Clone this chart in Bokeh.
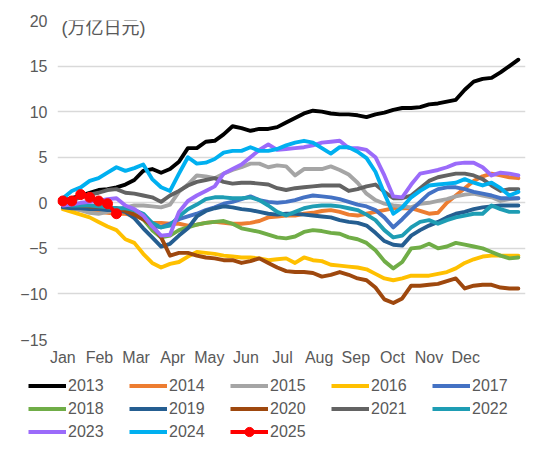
from bokeh.plotting import figure
from bokeh.layouts import column
from bokeh.models import Range1d, FixedTicker, Legend, LegendItem, Label
from bokeh.embed import file_html
from bokeh.resources import INLINE

weeks = list(range(52))
month_labels = ["Jan", "Feb", "Mar", "Apr", "May", "Jun", "Jul", "Aug", "Sep", "Oct", "Nov", "Dec"]
month_ticks = [0, 4.1, 8.2, 12.3, 16.4, 20.5, 24.6, 28.7, 32.8, 36.9, 41.0, 45.1]
y_ticks = [-15, -10, -5, 0, 5, 10, 15, 20]

y2013 = [0.2, 0.5, 0.8, 1.1, 1.4, 1.5, 1.7, 2.0, 2.5, 3.5, 3.7, 3.3, 3.7, 4.5, 6.0, 6.0, 6.7, 6.8, 7.5, 8.4,
         8.2, 7.9, 8.1, 8.1, 8.3, 8.8, 9.3, 9.8, 10.1, 10.0, 9.8, 9.7, 9.7, 9.6, 9.4, 9.7, 9.9, 10.2, 10.4, 10.4,
         10.5, 10.8, 10.9, 11.1, 11.3, 12.4, 13.3, 13.6, 13.7, 14.3, 15.0, 15.7]
y2014 = [-0.5, -0.6, -0.8, -0.9, -1.0, -1.1, -1.2, -1.2, -1.4, -1.8, -2.2, -2.2, -2.3, -2.3, -2.5, -2.4, -2.2, -2.1, -2.2, -2.3,
         -2.3, -2.2, -2.0, -1.6, -1.5, -1.4, -1.4, -1.2, -1.1, -0.9, -0.8, -1.0, -1.3, -1.4, -1.2, -1.0, -0.8, -0.6, -0.6, -0.6,
         -0.9, -1.2, -1.1, 0.0, 0.8, 1.6, 2.4, 2.9, 3.2, 3.0, 2.8, 2.7]
y2015 = [-0.3, -0.6, -0.8, -1.1, -1.2, -1.0, -0.8, -0.5, -0.3, -0.3, -0.4, -0.5, -0.2, 1.2, 2.0, 3.0, 2.9, 2.7, 3.2, 3.6,
         3.9, 4.3, 4.3, 3.9, 4.1, 4.0, 3.0, 3.7, 3.7, 3.7, 4.0, 3.6, 3.1, 2.2, 1.0, 0.3, -0.1, -0.3, -0.4, -0.5,
         -0.1, 0.0, 0.2, 0.4, 0.7, 0.9, 1.0, 0.8, 0.6, 0.2, 0.4, 0.5]
y2016 = [-0.7, -1.0, -1.3, -1.6, -2.1, -2.6, -3.0, -4.0, -4.4, -5.6, -6.6, -7.1, -6.7, -6.5, -5.9, -5.4, -5.5, -5.6, -5.8, -5.9,
         -6.0, -6.0, -6.1, -6.3, -6.2, -6.1, -6.6, -6.0, -6.3, -6.4, -6.8, -6.9, -7.0, -7.1, -7.3, -7.8, -8.3, -8.5, -8.3, -8.0,
         -8.0, -8.0, -7.8, -7.6, -7.2, -6.6, -6.2, -5.9, -5.8, -5.8, -5.8, -5.8]
y2017 = [-0.2, -0.4, -0.5, -0.5, -0.6, -0.6, -0.7, -0.8, -1.2, -1.8, -2.5, -2.7, -2.3, -1.8, -1.5, -1.2, -0.8, -0.5, -0.1, 0.1,
         0.4, 0.7, 0.3, 0.1, 0.0, 0.1, 0.3, 0.6, 0.8, 0.7, 0.6, 0.4, 0.1, -0.2, -0.4, -0.8, -1.6, -2.7, -1.8, -0.8,
         0.1, 1.0, 1.5, 1.7, 1.7, 1.5, 1.2, 1.0, 0.8, 0.5, 0.5, 0.5]
y2018 = [-0.3, -0.4, -0.4, -0.4, -0.5, -0.5, -0.6, -0.8, -1.2, -1.8, -3.0, -3.8, -3.6, -3.0, -2.7, -2.4, -2.2, -2.1, -2.0, -2.3,
         -2.8, -3.0, -3.2, -3.5, -3.8, -3.9, -3.7, -3.2, -3.0, -3.1, -3.3, -3.4, -3.8, -4.0, -4.4, -5.2, -6.4, -7.2, -6.5, -5.0,
         -4.9, -4.5, -5.0, -4.8, -4.4, -4.6, -4.8, -5.0, -5.4, -5.8, -6.1, -6.0]
y2019 = [-0.5, -0.6, -0.6, -0.7, -0.7, -0.8, -0.8, -1.0, -1.7, -2.8, -3.8, -4.8, -4.5, -3.6, -2.8, -1.5, -0.9, -0.6, -0.4, -0.5,
         -0.7, -0.8, -1.0, -1.2, -1.3, -1.2, -1.2, -1.3, -1.4, -1.5, -1.6, -1.9, -2.1, -2.2, -2.5, -3.3, -4.2, -4.6, -4.7, -3.6,
         -3.0, -2.5, -2.1, -1.6, -1.2, -1.0, -0.7, -0.5, -0.4, -0.3, -0.3, -0.3]
y2020 = [-0.2, -0.2, -0.3, -0.4, -0.4, -0.5, -0.6, -0.9, -1.3, -1.8, -2.5, -3.8, -5.8, -5.5, -5.5, -5.8, -6.0, -6.1, -6.3, -6.3,
         -6.6, -6.4, -6.1, -6.6, -7.1, -7.5, -7.6, -7.6, -7.7, -8.1, -7.9, -7.6, -7.9, -8.3, -8.5, -9.3, -10.6, -11.0, -10.5, -9.1,
         -9.1, -9.0, -8.9, -8.6, -8.3, -9.4, -9.1, -9.0, -9.0, -9.3, -9.4, -9.4]
y2021 = [0.0, 0.3, 0.6, 0.9, 1.1, 1.4, 1.5, 1.1, 1.0, 0.8, 0.6, 0.1, 0.8, 1.3, 1.9, 2.3, 2.5, 2.7, 2.3, 2.1,
         2.2, 2.2, 2.1, 2.0, 1.6, 1.4, 1.6, 1.7, 1.8, 1.9, 1.9, 1.9, 1.3, 1.5, 1.8, 2.0, 1.2, 0.5, 0.5, 0.8,
         1.6, 2.4, 2.8, 3.0, 3.2, 3.2, 3.0, 2.6, 1.9, 1.3, 1.5, 1.5]
y2022 = [-0.2, -0.3, -0.3, -0.3, -0.4, -0.5, -0.6, -0.6, -0.8, -1.2, -2.2, -2.7, -2.5, -1.5, -0.7, -0.2, 0.4, 0.6, 0.6, 0.5,
         0.5, 0.6, 0.3, -0.3, -1.0, -1.4, -1.0, -0.6, -0.4, -0.3, -0.3, -0.4, -0.6, -0.8, -1.3, -1.9, -3.0, -3.8, -3.6, -2.7,
         -2.1, -1.9, -2.3, -1.9, -1.6, -1.4, -1.2, -1.2, -0.3, -0.7, -1.0, -1.0]
y2023 = [-0.3, -0.2, 0.0, 0.1, 0.2, 0.4, 0.5, -0.3, -0.7, -1.4, -2.6, -3.6, -3.5, -1.0, 0.2, 0.8, 1.3, 1.8, 3.2, 3.7,
         4.2, 5.0, 5.8, 6.4, 5.8, 5.9, 6.0, 6.1, 6.3, 6.6, 6.7, 6.8, 6.0, 6.0, 5.8, 5.0, 3.0, 0.7, 0.6, 2.0,
         3.2, 3.4, 3.6, 3.9, 4.3, 4.4, 4.4, 3.9, 3.0, 3.3, 3.2, 3.0]
y2024 = [0.5, 1.3, 1.7, 2.4, 2.7, 3.3, 3.9, 3.5, 3.8, 4.2, 2.6, 1.7, 1.3, 3.2, 5.0, 4.3, 4.4, 4.8, 5.5, 5.7,
         5.7, 6.1, 5.7, 5.7, 5.9, 6.3, 6.6, 6.8, 6.6, 6.0, 5.4, 6.1, 6.1, 5.6, 4.9, 3.4, 1.0, -1.2, -0.5, 0.6,
         1.3, 1.9, 2.0, 2.1, 2.2, 2.6, 2.2, 1.9, 2.2, 1.6, 0.8, 1.2]
y2025 = [0.2, 0.2, 0.9, 0.6, 0.2, -0.1, -1.2]

series = [
    ("2013", y2013, "#000000"),
    ("2014", y2014, "#ED7D31"),
    ("2015", y2015, "#A5A5A5"),
    ("2016", y2016, "#FFC000"),
    ("2017", y2017, "#4472C4"),
    ("2018", y2018, "#70AD47"),
    ("2019", y2019, "#255E91"),
    ("2020", y2020, "#9E480E"),
    ("2021", y2021, "#636363"),
    ("2022", y2022, "#1E9DB4"),
    ("2023", y2023, "#9B6BFA"),
    ("2024", y2024, "#00B0F0"),
    ("2025", y2025, "#FF0000"),
]

FONT = "Liberation Sans, Noto Sans CJK SC"
TXT = "#595959"
LW = 3.9

p = figure(width=534, height=374, output_backend="svg", toolbar_location=None,
           x_range=Range1d(-0.6, 51.8), y_range=Range1d(-15, 20),
           min_border_left=57, min_border_right=9, min_border_top=20, min_border_bottom=35)
p.frame_align = False
p.outline_line_color = None
p.background_fill_color = "white"
p.xgrid.grid_line_color = None
p.ygrid.grid_line_color = "#D9D9D9"
p.ygrid.grid_line_width = 1.3
p.yaxis.ticker = FixedTicker(ticks=y_ticks)
p.xaxis.ticker = FixedTicker(ticks=month_ticks)
p.xaxis.major_label_overrides = {t: m for t, m in zip(month_ticks, month_labels)}
for ax in (p.xaxis, p.yaxis):
    ax.axis_line_color = None
    ax.major_tick_line_color = None
    ax.minor_tick_line_color = None
    ax.major_tick_out = 0
    ax.major_label_text_font = FONT
    ax.major_label_text_font_size = "16px"
    ax.major_label_text_color = TXT
p.yaxis.major_label_standoff = 10
p.xaxis.major_label_standoff = 9

# legend strip: same series drawn outside its visible range, only the legend shows
lf = figure(width=534, height=64, output_backend="svg", toolbar_location=None,
            x_axis_location=None, y_axis_location=None,
            min_border=0, x_range=Range1d(-20, -10), y_range=Range1d(-20, -10))
lf.frame_align = False
lf.outline_line_color = None
lf.grid.grid_line_color = None

items = []
for name, vals, color in series:
    xs = weeks[:len(vals)]
    p.line(xs, vals, line_color=color, line_width=LW, line_join="round", line_cap="round")
    if name == "2025":
        p.scatter(xs, vals, size=10, fill_color=color, line_color=color)
    r = lf.line(xs, vals, line_color=color, line_width=LW)
    rends = [r]
    if name == "2025":
        rends.append(lf.scatter(xs, vals, size=10, fill_color=color, line_color=color))
    items.append(LegendItem(label=name, renderers=rends))

unit = Label(x=-0.15, y=19.2, text="(万亿日元)", text_font=FONT, text_font_size="18px",
             text_color=TXT, text_baseline="middle", text_align="left")
p.add_layout(unit)

legend = Legend(items=items, ncols=5, orientation="horizontal", location=(28, -5),
                padding=0, margin=0, spacing=0, glyph_width=38, glyph_height=23,
                label_height=23, label_width=61, label_standoff=2,
                label_text_font=FONT, label_text_font_size="16px", label_text_color=TXT,
                border_line_color=None, background_fill_alpha=0)
lf.add_layout(legend, "center")

layout = column(p, lf, spacing=0)
open("out.html", "w").write(file_html(layout, INLINE))
